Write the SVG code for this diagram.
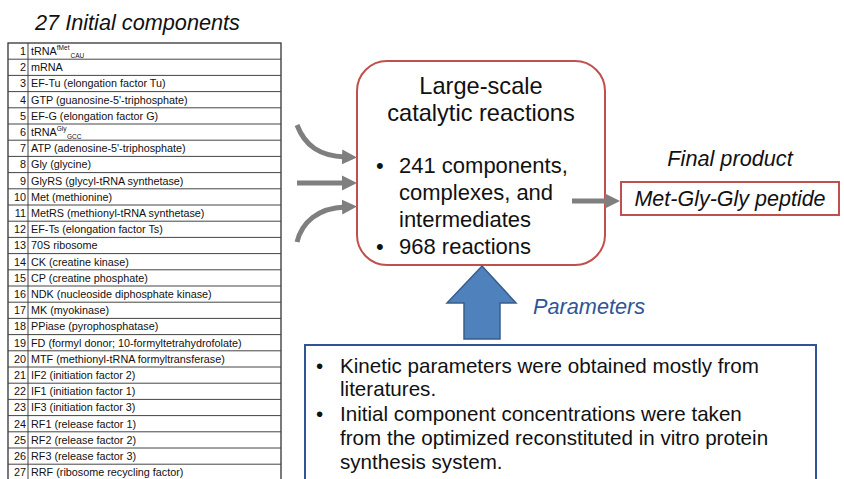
<svg xmlns="http://www.w3.org/2000/svg" width="844" height="479" viewBox="0 0 844 479">
  <style>
    text { font-family: "Liberation Sans", Arial, sans-serif; fill: #111; }
    .title { font-size: 21.7px; font-style: italic; }
    .cell { font-size: 10.8px; }
    .num { font-size: 10.8px; text-anchor: end; }
    .sup { font-size: 6.5px; }
    .rowline { stroke: #444; stroke-width: 1; }
    .frame { fill: #fff; stroke: #333; stroke-width: 1.3; }
    .big { font-size: 23.6px; text-anchor: middle; }
    .bul { font-size: 22px; }
    .note { font-size: 20.6px; }
    .feed { fill: none; stroke: #7f7f7f; stroke-width: 5; }
  </style>
  <defs>
    <marker id="grayHead" viewBox="0 0 10 10" refX="2" refY="5" markerWidth="3" markerHeight="3.2" orient="auto" markerUnits="strokeWidth">
      <path d="M0,0 L10,5 L0,10 Z" fill="#7f7f7f"/>
    </marker>
  </defs>

  <rect width="844" height="479" fill="#fff"/>

  <!-- component list -->
  <g id="component-table">
    <text class="title" x="35" y="30">27 Initial components</text>
    <rect class="frame" x="8" y="43" width="273" height="445"/>
    <line class="rowline" x1="28" y1="43" x2="28" y2="479"/>
    <g class="rowline">
      <line x1="8" x2="281" y1="59.2" y2="59.2"/>
      <line x1="8" x2="281" y1="75.4" y2="75.4"/>
      <line x1="8" x2="281" y1="91.6" y2="91.6"/>
      <line x1="8" x2="281" y1="107.8" y2="107.8"/>
      <line x1="8" x2="281" y1="124" y2="124"/>
      <line x1="8" x2="281" y1="140.2" y2="140.2"/>
      <line x1="8" x2="281" y1="156.4" y2="156.4"/>
      <line x1="8" x2="281" y1="172.6" y2="172.6"/>
      <line x1="8" x2="281" y1="188.8" y2="188.8"/>
      <line x1="8" x2="281" y1="205" y2="205"/>
      <line x1="8" x2="281" y1="221.2" y2="221.2"/>
      <line x1="8" x2="281" y1="237.4" y2="237.4"/>
      <line x1="8" x2="281" y1="253.6" y2="253.6"/>
      <line x1="8" x2="281" y1="269.8" y2="269.8"/>
      <line x1="8" x2="281" y1="286" y2="286"/>
      <line x1="8" x2="281" y1="302.2" y2="302.2"/>
      <line x1="8" x2="281" y1="318.4" y2="318.4"/>
      <line x1="8" x2="281" y1="334.6" y2="334.6"/>
      <line x1="8" x2="281" y1="350.8" y2="350.8"/>
      <line x1="8" x2="281" y1="367" y2="367"/>
      <line x1="8" x2="281" y1="383.2" y2="383.2"/>
      <line x1="8" x2="281" y1="399.4" y2="399.4"/>
      <line x1="8" x2="281" y1="415.6" y2="415.6"/>
      <line x1="8" x2="281" y1="431.8" y2="431.8"/>
      <line x1="8" x2="281" y1="448" y2="448"/>
      <line x1="8" x2="281" y1="464.2" y2="464.2"/>
    </g>
    <g>
      <text class="num" x="26" y="55">1</text>
      <text class="num" x="26" y="71.2">2</text>
      <text class="num" x="26" y="87.4">3</text>
      <text class="num" x="26" y="103.6">4</text>
      <text class="num" x="26" y="119.8">5</text>
      <text class="num" x="26" y="136">6</text>
      <text class="num" x="26" y="152.2">7</text>
      <text class="num" x="26" y="168.4">8</text>
      <text class="num" x="26" y="184.6">9</text>
      <text class="num" x="26" y="200.8">10</text>
      <text class="num" x="26" y="217">11</text>
      <text class="num" x="26" y="233.2">12</text>
      <text class="num" x="26" y="249.4">13</text>
      <text class="num" x="26" y="265.6">14</text>
      <text class="num" x="26" y="281.8">15</text>
      <text class="num" x="26" y="298">16</text>
      <text class="num" x="26" y="314.2">17</text>
      <text class="num" x="26" y="330.4">18</text>
      <text class="num" x="26" y="346.6">19</text>
      <text class="num" x="26" y="362.8">20</text>
      <text class="num" x="26" y="379">21</text>
      <text class="num" x="26" y="395.2">22</text>
      <text class="num" x="26" y="411.4">23</text>
      <text class="num" x="26" y="427.6">24</text>
      <text class="num" x="26" y="443.8">25</text>
      <text class="num" x="26" y="460">26</text>
      <text class="num" x="26" y="476.2">27</text>
    </g>
    <g>
      <text class="cell" x="31" y="55">tRNA<tspan class="sup" dy="-5">fMet</tspan><tspan class="sup" dx="1" dy="8">CAU</tspan></text>
      <text class="cell" x="31" y="71.2">mRNA</text>
      <text class="cell" x="31" y="87.4">EF-Tu (elongation factor Tu)</text>
      <text class="cell" x="31" y="103.6">GTP (guanosine-5'-triphosphate)</text>
      <text class="cell" x="31" y="119.8">EF-G (elongation factor G)</text>
      <text class="cell" x="31" y="136">tRNA<tspan class="sup" dy="-5">Gly</tspan><tspan class="sup" dx="0.5" dy="8">GCC</tspan></text>
      <text class="cell" x="31" y="152.2">ATP (adenosine-5'-triphosphate)</text>
      <text class="cell" x="31" y="168.4">Gly (glycine)</text>
      <text class="cell" x="31" y="184.6">GlyRS (glycyl-tRNA synthetase)</text>
      <text class="cell" x="31" y="200.8">Met (methionine)</text>
      <text class="cell" x="31" y="217">MetRS (methionyl-tRNA synthetase)</text>
      <text class="cell" x="31" y="233.2">EF-Ts (elongation factor Ts)</text>
      <text class="cell" x="31" y="249.4">70S ribosome</text>
      <text class="cell" x="31" y="265.6">CK (creatine kinase)</text>
      <text class="cell" x="31" y="281.8">CP (creatine phosphate)</text>
      <text class="cell" x="31" y="298">NDK (nucleoside diphosphate kinase)</text>
      <text class="cell" x="31" y="314.2">MK (myokinase)</text>
      <text class="cell" x="31" y="330.4">PPiase (pyrophosphatase)</text>
      <text class="cell" x="31" y="346.6">FD (formyl donor; 10-formyltetrahydrofolate)</text>
      <text class="cell" x="31" y="362.8">MTF (methionyl-tRNA formyltransferase)</text>
      <text class="cell" x="31" y="379">IF2 (initiation factor 2)</text>
      <text class="cell" x="31" y="395.2">IF1 (initiation factor 1)</text>
      <text class="cell" x="31" y="411.4">IF3 (initiation factor 3)</text>
      <text class="cell" x="31" y="427.6">RF1 (release factor 1)</text>
      <text class="cell" x="31" y="443.8">RF2 (release factor 2)</text>
      <text class="cell" x="31" y="460">RF3 (release factor 3)</text>
      <text class="cell" x="31" y="476.2">RRF (ribosome recycling factor)</text>
    </g>
  </g>

  <!-- reaction network box -->
  <g id="reactions">
    <rect x="357" y="61" width="248" height="204" rx="30" ry="30" fill="#fff" stroke="#c0504d" stroke-width="2"/>
    <text class="big" x="481" y="94">Large-scale</text>
    <text class="big" x="481" y="121">catalytic reactions</text>
    <text class="bul" x="376" y="173">•</text>
    <text class="bul" x="399" y="173">241 components,</text>
    <text class="bul" x="399" y="200">complexes, and</text>
    <text class="bul" x="399" y="227">intermediates</text>
    <text class="bul" x="376" y="254">•</text>
    <text class="bul" x="399" y="254">968 reactions</text>
  </g>

  <!-- final product -->
  <g id="product">
    <text x="730" y="166" font-size="21.7" font-style="italic" text-anchor="middle">Final product</text>
    <rect x="621" y="182" width="218" height="33" fill="#fff" stroke="#c0504d" stroke-width="2"/>
    <text x="730" y="206" font-size="21.5" font-style="italic" text-anchor="middle">Met-Gly-Gly peptide</text>
  </g>

  <!-- parameter sources -->
  <g id="parameters">
    <path d="M482,266 L516,303 L500,303 L500,339 L464,339 L464,303 L447,303 Z" fill="#4f81bd" stroke="#385d8a" stroke-width="1.5" stroke-linejoin="miter"/>
    <text x="533" y="314" font-size="21.7" font-style="italic" style="fill:#2f5597">Parameters</text>
    <rect x="305" y="345" width="511" height="150" fill="#fff" stroke="#2f5597" stroke-width="2"/>
    <text class="note" x="316" y="373">•</text>
    <text class="note" x="340" y="373">Kinetic parameters were obtained mostly from</text>
    <text class="note" x="340" y="396">literatures.</text>
    <text class="note" x="316" y="421">•</text>
    <text class="note" x="340" y="421">Initial component concentrations were taken</text>
    <text class="note" x="340" y="445">from the optimized reconstituted in vitro protein</text>
    <text class="note" x="340" y="469">synthesis system.</text>
  </g>

  <!-- connectors -->
  <g id="connectors">
    <path class="feed" d="M297,125 C305,146 320,156 345,157" marker-end="url(#grayHead)"/>
    <path class="feed" d="M297,183 L345,183" marker-end="url(#grayHead)"/>
    <path class="feed" d="M297,242 C302,222 318,208 345,207" marker-end="url(#grayHead)"/>
    <path class="feed" d="M572,201 L608,201" marker-end="url(#grayHead)"/>
  </g>
</svg>
